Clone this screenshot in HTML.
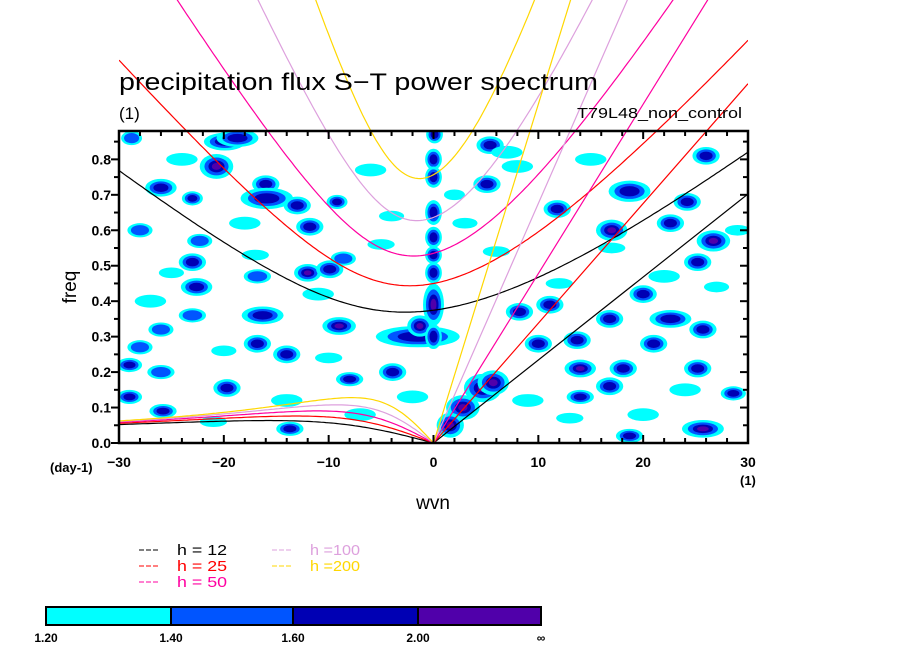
<!DOCTYPE html>
<html><head><meta charset="utf-8"><style>
html,body{margin:0;padding:0;background:#fff;}
svg{display:block;font-family:"Liberation Sans",sans-serif;}
</style></head><body>
<svg id="chart" width="904" height="654" viewBox="0 0 904 654" xmlns="http://www.w3.org/2000/svg">
<defs><clipPath id="pc"><rect x="119" y="131" width="629" height="312"/></clipPath>
<clipPath id="lc"><rect x="119" y="0" width="629" height="443"/></clipPath></defs>
<g id="blobs" clip-path="url(#pc)"></g>
<g id="curves" clip-path="url(#lc)"></g>
<g id="axes"></g>
<text x="119" y="90" font-size="24" fill="#000" textLength="479" lengthAdjust="spacingAndGlyphs">precipitation flux S−T power spectrum</text>
<text x="119" y="119" font-size="17">(1)</text>
<text x="577" y="118" font-size="15" textLength="165" lengthAdjust="spacingAndGlyphs">T79L48_non_control</text>
<text x="0" y="0" font-size="19" transform="translate(76,287) rotate(-90)" text-anchor="middle">freq</text>
<text x="433" y="509" font-size="19" text-anchor="middle">wvn</text>
<text x="50" y="472" font-size="13" font-weight="bold">(day-1)</text>
<text x="740" y="485" font-size="13" font-weight="bold">(1)</text>
<g id="legend"></g>
<g id="colorbar"></g>
</svg>
<script>
const NS="http://www.w3.org/2000/svg";
const depths=[12,25,50,100,200];
const depthColors=["#000000","#ff0000","#ff00a0","#dda0dd","#ffd700"];
const depthLabels=["h = 12","h = 25","h = 50","h =100","h =200"];
const xTicks=[-30,-20,-10,0,10,20,30];
const yTicks=[0,0.1,0.2,0.3,0.4,0.5,0.6,0.7,0.8];
const cbLabels=["1.20","1.40","1.60","2.00","∞"];
const cbColors=["#00ffff","#0055ff","#0000b4","#5000aa"];
// blobs: wavenumber, frequency, level(1-4), half-width (wvn), half-height (freq)
const blobS=[-19.9,-20.7,-26,-16,-15.9,-13,-11.8,-23,-28,-22.3,-23,-12,-9.9,-22.6,-16.3,-9,-16.8,-14,-29,-26,-19.7,-29,-25.8,-13.7,-3.9,-1.5,-1.3,-18.7,-28.8,-23,-28,-8,-16.8,-8.6,-9.2,-26,
0.1,0,0,0,0,0,0,0,0,4.7,2.8,1.6,5.7,5.1,5.4,11.8,17,18.7,26.7,25.2,26,24.2,22.6,11.1,20,22.6,16.8,13.7,21,25.7,14,18.1,25.2,28.6,25.7,18.7,16.8,14,10,8.2,
-24,-6,-18,-4,-27,-11,-2,-20,-7,-14,-25,-5,3,8,12,15,22,27,9,20,6,24,29,13,-21,-10,7,17,2,-17];
const blobF=[0.85,0.78,0.72,0.73,0.69,0.67,0.61,0.69,0.6,0.57,0.51,0.48,0.49,0.44,0.36,0.33,0.28,0.25,0.22,0.2,0.155,0.13,0.09,0.04,0.2,0.3,0.33,0.86,0.86,0.36,0.27,0.18,0.47,0.52,0.68,0.32,
0.87,0.8,0.75,0.65,0.58,0.53,0.48,0.39,0.3,0.155,0.1,0.05,0.17,0.73,0.84,0.66,0.6,0.71,0.57,0.51,0.81,0.68,0.62,0.39,0.42,0.35,0.35,0.29,0.28,0.32,0.21,0.21,0.21,0.14,0.04,0.02,0.16,0.13,0.28,0.37,
0.8,0.77,0.62,0.64,0.4,0.42,0.13,0.26,0.08,0.12,0.48,0.56,0.62,0.78,0.45,0.8,0.47,0.44,0.12,0.08,0.54,0.15,0.6,0.07,0.06,0.24,0.82,0.55,0.7,0.53];
const blobL=[3,4,3,3,3,3,3,3,2,2,3,4,3,3,3,4,3,3,3,2,3,3,3,3,3,3,4,3,2,2,2,3,2,2,3,2,
3,3,3,3,3,3,3,4,3,4,4,4,4,3,3,3,4,3,4,3,3,3,3,3,3,3,3,3,3,3,4,3,3,3,4,3,3,3,3,3,
1,1,1,1,1,1,1,1,1,1,1,1,1,1,1,1,1,1,1,1,1,1,1,1,1,1,1,1,1,1];
const blobW=[2,1.6,1.5,1.3,2.5,1.3,1.3,1,1.2,1.2,1.3,1.3,1.3,1.5,2,1.6,1.3,1.3,1.2,1.3,1.3,1.2,1.3,1.3,1.3,4,1.2,2,1,1.3,1.2,1.3,1.3,1.2,1,1.2,
0.8,0.8,0.8,0.8,0.8,0.8,0.8,1,0.8,1.8,1.6,1.3,1.5,1.3,1.3,1.3,1.5,2,1.6,1.3,1.3,1.3,1.3,1.3,1.3,2,1.3,1.3,1.3,1.3,1.5,1.3,1.3,1.2,2,1.3,1.3,1.3,1.3,1.3,
1.5,1.5,1.5,1.2,1.5,1.5,1.5,1.2,1.5,1.5,1.2,1.3,1.2,1.5,1.3,1.5,1.5,1.2,1.5,1.5,1.3,1.5,1.2,1.3,1.3,1.3,1.5,1.3,1,1.3];
const blobH=[0.025,0.035,0.025,0.025,0.03,0.025,0.025,0.02,0.02,0.02,0.025,0.025,0.025,0.025,0.025,0.025,0.025,0.025,0.02,0.02,0.025,0.02,0.02,0.02,0.025,0.03,0.03,0.025,0.02,0.02,0.02,0.02,0.02,0.02,0.02,0.02,
0.025,0.03,0.03,0.035,0.03,0.025,0.03,0.06,0.035,0.04,0.035,0.035,0.035,0.025,0.025,0.025,0.03,0.03,0.03,0.025,0.025,0.025,0.025,0.025,0.025,0.025,0.025,0.025,0.025,0.025,0.025,0.025,0.025,0.02,0.025,0.02,0.025,0.02,0.025,0.025,
0.018,0.018,0.018,0.015,0.018,0.018,0.018,0.015,0.018,0.018,0.015,0.015,0.015,0.018,0.015,0.018,0.018,0.015,0.018,0.018,0.015,0.018,0.015,0.015,0.015,0.015,0.018,0.015,0.015,0.015];

const X0=119,X1=748,Y0=443,Y1=131;
const xs=s=>X0+(s+30)/60*(X1-X0);
const ys=f=>Y0-f/0.88*(Y0-Y1);
function mk(tag,attrs,parent){const e=document.createElementNS(NS,tag);for(const k in attrs)e.setAttribute(k,attrs[k]);parent.appendChild(e);return e;}

const gb=document.getElementById('blobs');
const scales=[1,0.72,0.48,0.28];
for(let i=0;i<blobS.length;i++){
  for(let l=0;l<blobL[i];l++){
    const e=mk('ellipse',{cx:xs(blobS[i]),cy:ys(blobF[i]),rx:blobW[i]*10.48*scales[l],ry:blobH[i]*354.5*scales[l],fill:cbColors[l]},gb);
    
    
  }
}

const g=9.8,beta=2.28e-11,a=6.371e6;
function cubicRoot(k,lo,hi){let f=w=>w*w*w-(k*k+3)*w-k;let flo=f(lo);for(let i=0;i<80;i++){const m=(lo+hi)/2,fm=f(m);if((fm>0)===(flo>0)){lo=m;flo=fm;}else hi=m;}return (lo+hi)/2;}
const gc=document.getElementById('curves');
depths.forEach((h,j)=>{
  const c=Math.sqrt(g*h),L=Math.sqrt(c/beta),T=Math.sqrt(beta*c);
  const cpd=w=>w*T*86400/(2*Math.PI);
  let ig=[],er=[],kv=[];
  for(let s=-30;s<=30.001;s+=0.25){
    const k=s/a*L;
    const wig=cubicRoot(k,Math.sqrt(k*k+3)*0.9,Math.sqrt(k*k+3)+2);
    ig.push([xs(s),ys(cpd(wig))]);
    if(s<0){const wer=cubicRoot(k,1e-9,1);er.push([xs(s),ys(cpd(wer))]);}
  }
  er.push([xs(0),ys(0)]);
  kv.push([xs(0),ys(0)]);kv.push([xs(30),ys(cpd(30/a*L))]);
  [['ig',ig],['er',er],['kelvin',kv]].forEach(([n,pts])=>{
    const p=mk('polyline',{points:pts.map(q=>q[0].toFixed(1)+','+q[1].toFixed(1)).join(' '),fill:'none',stroke:depthColors[j],'stroke-width':1.2},gc);
    
    
  });
});

const ga=document.getElementById('axes');
const fr=mk('rect',{x:X0,y:Y1,width:X1-X0,height:Y0-Y1,fill:'none',stroke:'#000','stroke-width':2.5},ga);

for(let s=-30;s<=30;s+=2){const big=s%10===0,len=big?8:5;
  mk('line',{x1:xs(s),x2:xs(s),y1:Y0,y2:Y0-len,stroke:'#000','stroke-width':2},ga);
  mk('line',{x1:xs(s),x2:xs(s),y1:Y1,y2:Y1+len,stroke:'#000','stroke-width':2},ga);}
for(let f=0;f<=0.88;f+=0.05){const big=Math.abs(f*10-Math.round(f*10))<0.01,len=big?8:5;
  mk('line',{x1:X0,x2:X0-len,y1:ys(f),y2:ys(f),stroke:'#000','stroke-width':2},ga);
  mk('line',{x1:X1,x2:X1-len,y1:ys(f),y2:ys(f),stroke:'#000','stroke-width':2},ga);}
xTicks.forEach(v=>{const t=mk('text',{x:xs(v),y:Y0+24,'font-size':14,'font-weight':'bold','text-anchor':'middle'},ga);t.textContent=v<0?'−'+(-v):v;
  });
yTicks.forEach(v=>{const t=mk('text',{x:X0-8,y:ys(v)+5,'font-size':14,'font-weight':'bold','text-anchor':'end'},ga);t.textContent=v.toFixed(1);
  });

const gl=document.getElementById('legend');
depths.forEach((h,j)=>{const col=j<3?0:1,row=j<3?j:j-3;
  const lx=col?272:139,ty=555+row*16;
  const ln=mk('line',{x1:lx,x2:lx+20,y1:ty-5,y2:ty-5,stroke:depthColors[j],'stroke-width':1,'stroke-dasharray':'5,2'},gl);
  
  const t=mk('text',{x:lx+38,y:ty,'font-size':15,fill:depthColors[j],textLength:50,lengthAdjust:'spacingAndGlyphs'},gl);t.textContent=depthLabels[j];
  });

const gcb=document.getElementById('colorbar');
const cbx=[46,171,293,418,541];
cbColors.forEach((c,i)=>{const r=mk('rect',{x:cbx[i],y:607,width:cbx[i+1]-cbx[i],height:18,fill:c,stroke:'#000','stroke-width':2},gcb);
  });
cbLabels.forEach((s,i)=>{const t=mk('text',{x:cbx[i],y:642,'font-size':12,'font-weight':'bold','text-anchor':'middle'},gcb);t.textContent=s;
  });
</script>
</body></html>
